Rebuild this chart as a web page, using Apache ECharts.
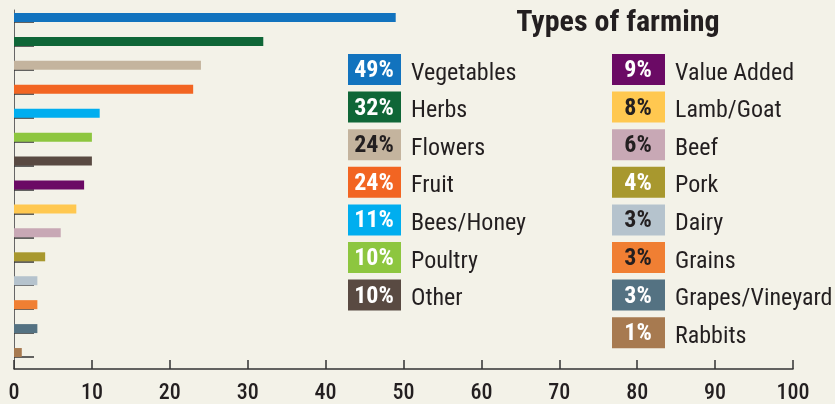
<!DOCTYPE html>
<html><head><meta charset="utf-8">
<script src="https://cdn.jsdelivr.net/npm/echarts@6/dist/echarts.min.js"></script>
<style>html,body{margin:0;padding:0;background:#f3f2e8;}#c{width:835px;height:404px;}</style>
</head><body><div id="c"></div>
<script>
var categories = ['Vegetables','Herbs','Flowers','Fruit','Bees/Honey','Poultry','Other','Value Added','Lamb/Goat','Beef','Pork','Dairy','Grains','Grapes/Vineyard','Rabbits'];
var values = [49, 32, 24, 23, 11, 10, 10, 9, 8, 6, 4, 3, 3, 3, 1];
var legendPercents = ['49%','32%','24%','24%','11%','10%','10%','9%','8%','6%','4%','3%','3%','3%','1%'];
var colors = ['#1273be','#0f6637','#c4b49e','#f26522','#00aeef','#8dc63f','#594a42','#6b0a65','#ffc850','#c8a8b5','#a8982e','#b5c3cd','#f07f33','#547282','#a77a50'];
var percentDark = [false,false,true,false,false,false,false,false,true,true,false,true,true,false,false];
var xTicks = [0,10,20,30,40,50,60,70,80,90,100];

var FONT = '"Roboto Condensed", Roboto, sans-serif';
var chart = echarts.init(document.getElementById('c'));

var graphics = [{
  type: 'text', x: 618, y: 23.5,
  style: { text: 'Types of farming', font: 'bold 30px ' + FONT, fill: '#231f20', align: 'center', verticalAlign: 'middle' }
}];
categories.forEach(function (name, i) {
  var col = i < 7 ? 0 : 1;
  var row = i < 7 ? i : i - 7;
  var bx = col === 0 ? 348 : 612;
  var by = 54 + row * 37.6;
  graphics.push({ type: 'rect', shape: { x: bx, y: by, width: 53, height: 31 }, style: { fill: colors[i] } });
  graphics.push({ type: 'text', x: bx + 26, y: by + 17,
    style: { text: legendPercents[i], font: 'bold 24px ' + FONT, fill: percentDark[i] ? '#231f20' : '#ffffff', align: 'center', verticalAlign: 'middle' } });
  graphics.push({ type: 'text', x: bx + 63, y: by + 19.5,
    style: { text: name, font: '24px ' + FONT, fill: '#231f20', align: 'left', verticalAlign: 'middle' } });
});

chart.setOption({
  backgroundColor: '#f3f2e8',
  animation: false,
  grid: { left: 14, right: 42, top: 10, bottom: 32 },
  xAxis: {
    type: 'value', min: 0, max: 100, interval: 10,
    axisLine: { show: true, lineStyle: { color: '#333', width: 1.5 } },
    axisTick: { show: true, inside: true, length: 9, lineStyle: { color: '#333', width: 1.5 } },
    splitLine: { show: false },
    axisLabel: { color: '#231f20', fontSize: 22, fontFamily: FONT, fontWeight: 500, margin: 13,
      formatter: function (v) { return xTicks.indexOf(v) >= 0 ? String(v) : ''; } }
  },
  yAxis: {
    type: 'category', data: categories, inverse: true,
    axisLine: { show: true, lineStyle: { color: '#666', width: 1 } },
    axisTick: { show: true, inside: true, alignWithLabel: true, length: 20, lineStyle: { color: '#333', width: 1.5 } },
    axisLabel: { show: false }
  },
  series: [
    { type: 'bar', data: values.map(function (v, i) { return { value: v, itemStyle: { color: colors[i] } }; }),
      barWidth: 9, barGap: 0, z: 1 },
    { type: 'bar', data: values.map(function () { return '-'; }), barWidth: 9, barGap: 0 }
  ],
  graphic: graphics
});
</script></body></html>
